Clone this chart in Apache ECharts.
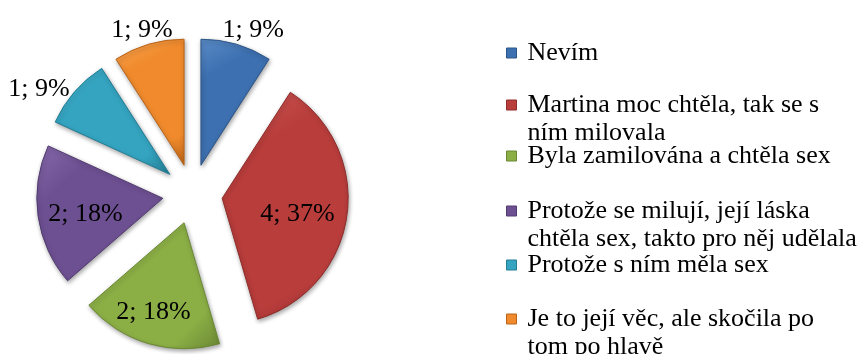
<!DOCTYPE html>
<html>
<head>
<meta charset="utf-8">
<script src="https://cdn.jsdelivr.net/npm/echarts@6/dist/echarts.min.js"></script>
<style>
  html, body { margin: 0; padding: 0; background: #ffffff; }
  #chart { width: 865px; height: 354px; }
</style>
</head>
<body>
<div id="chart"></div>
<script>
// Answers and how many respondents chose each one
const categories = [
  'Nevím',
  'Martina moc chtěla, tak se s ním milovala',
  'Byla zamilována a chtěla sex',
  'Protože se milují, její láska chtěla sex, takto pro něj udělala',
  'Protože s ním měla sex',
  'Je to její věc, ale skočila po tom po hlavě'
];
const counts = [1, 4, 2, 2, 1, 1];

// Legend text, broken into the lines it is shown on
const legendLines = [
  ['Nevím'],
  ['Martina moc chtěla, tak se s', 'ním milovala'],
  ['Byla zamilována a chtěla sex'],
  ['Protože se milují, její láska', 'chtěla sex, takto pro něj udělala'],
  ['Protože s ním měla sex'],
  ['Je to její věc, ale skočila po', 'tom po hlavě']
];

// Slice colours: light edge, body, dark edge
const colors = ['#3d70b0', '#b83d3b', '#8bae45', '#6d5092', '#34a4c0', '#f08a2c'];
const lights = ['#5a8bc8', '#cf5a57', '#a3c65e', '#8769ab', '#55bcd6', '#f8a552'];
const edges = ['#2c5587', '#8e2c2b', '#6a8834', '#523b70', '#237d94', '#b96418'];

// Label placement: inside or outside, plus a small nudge (px)
const labelInside = [false, true, true, true, false, false];
const labelNudge = [[-19, -14], [10, 7], [-12, 26], [-12, 7], [0, -3], [29, -14]];

const FONT = '"Liberation Serif", "Times New Roman", serif';
const FONT_SIZE = 26;
const LINE_H = 28;

// Vertical centre of each legend marker (px) and legend column left edge
const legendCenters = [53, 105, 156, 211, 265, 319];
const legendLeft = 506;

const legends = categories.map(function (name, i) {
  const lines = legendLines[i];
  // extra top padding keeps the marker level with the first line
  const extra = (lines.length - 1) * LINE_H;
  const boxH = LINE_H * lines.length + extra;
  return {
    data: [{ name: name, icon: 'rect', itemStyle: { color: colors[i], borderColor: edges[i], borderWidth: 1 } }],
    orient: 'vertical',
    left: legendLeft,
    top: legendCenters[i] - boxH / 2,
    padding: 0,
    itemWidth: 10,
    itemHeight: 10,
    selectedMode: false,
    formatter: function () {
      return lines.map(function (l) { return '{t|' + l + '}'; }).join('\n');
    },
    textStyle: {
      color: '#000000',
      backgroundColor: 'rgba(255,255,255,0)',
      padding: [extra, 0, 0, 6],
      rich: {
        t: {
          fontFamily: FONT,
          fontSize: FONT_SIZE,
          lineHeight: LINE_H,
          color: '#000000'
        }
      }
    }
  };
});

function sliceFill(i) {
  return new echarts.graphic.LinearGradient(0, 0, 1, 1, [
    { offset: 0, color: lights[i] },
    { offset: 0.25, color: colors[i] },
    { offset: 0.8, color: colors[i] },
    { offset: 1, color: edges[i] }
  ]);
}

const chart = echarts.init(document.getElementById('chart'), null, { renderer: 'canvas' });

chart.setOption({
  backgroundColor: '#ffffff',
  animation: false,
  legend: legends,
  series: [{
    type: 'pie',
    center: [192.5, 194],
    radius: [0, 126],
    startAngle: 90,
    clockwise: true,
    selectedMode: 'multiple',
    selectedOffset: 30,
    avoidLabelOverlap: false,
    label: {
      fontFamily: FONT,
      fontSize: FONT_SIZE,
      color: '#000000',
      formatter: '{c}; {d}%'
    },
    percentPrecision: 0,
    labelLine: { show: false, length: 0, length2: 0 },
    labelLayout: function (params) {
      const n = labelNudge[params.dataIndex];
      return { dx: n[0], dy: n[1] };
    },
    emphasis: { disabled: true },
    data: categories.map(function (name, i) {
      const style = {
        color: sliceFill(i),
        borderColor: edges[i],
        borderWidth: 1,
        shadowBlur: 4,
        shadowOffsetX: 1,
        shadowOffsetY: 2,
        shadowColor: 'rgba(0,0,0,0.35)'
      };
      return {
        name: name,
        value: counts[i],
        selected: true,
        label: { position: labelInside[i] ? 'inside' : 'outside' },
        itemStyle: style,
        select: { itemStyle: style }
      };
    })
  }]
});
</script>
</body>
</html>
